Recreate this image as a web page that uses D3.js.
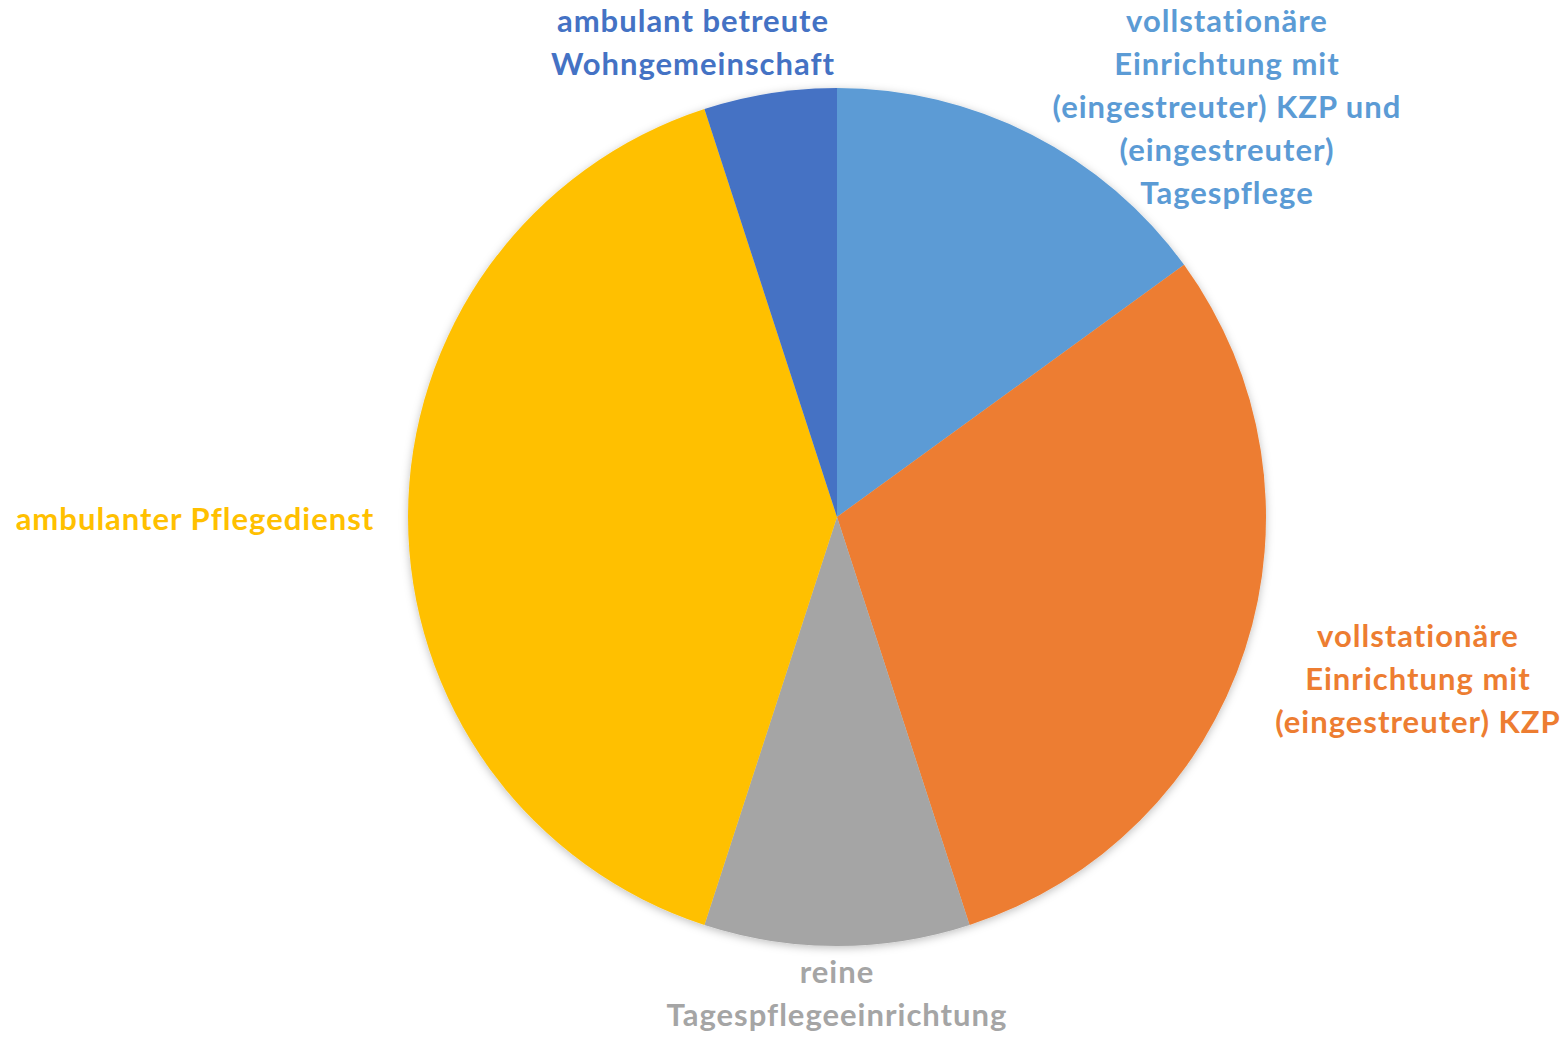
<!DOCTYPE html>
<html>
<head>
<meta charset="utf-8">
<script src="https://cdn.jsdelivr.net/npm/d3@7"></script>
<style>
  body { margin: 0; background: #fff; }
  #chart { width: 1565px; height: 1038px; }
  text { font-family: Lato, "Open Sans", sans-serif; font-weight: bold; }
</style>
</head>
<body>
<div id="chart"></div>
<script>
// data (clockwise from 12 o'clock)
const categories = [
    "vollstationäre Einrichtung mit (eingestreuter) KZP und (eingestreuter) Tagespflege",
    "vollstationäre Einrichtung mit (eingestreuter) KZP",
    "reine Tagespflegeeinrichtung",
    "ambulanter Pflegedienst",
    "ambulant betreute Wohngemeinschaft"
];
const values = [15, 30, 10, 40, 5];
const colors = ["#5B9BD5", "#ED7D31", "#A5A5A5", "#FFC000", "#4472C4"];

// how each label is broken into lines
const labelLines = [
    ["vollstationäre", "Einrichtung mit", "(eingestreuter) KZP und", "(eingestreuter)", "Tagespflege"],
    ["vollstationäre", "Einrichtung mit", "(eingestreuter) KZP"],
    ["reine", "Tagespflegeeinrichtung"],
    ["ambulanter Pflegedienst"],
    ["ambulant betreute", "Wohngemeinschaft"]
];
// label block centres, relative to the pie centre
const labelOffsets = [[390, -410], [581, 162], [0, 477], [-642, 2], [-144, -474]];

window.onload = function () {
    drawPie();
};

function drawPie() {
    let width = 1565,
        height = 1038,
        cx = 837,
        cy = 517,
        radius = 429,
        lineHeight = 43;

    let svg = d3.select("#chart")
        .append("svg")
        .attr("width", width)
        .attr("height", height);

    // soft shadow like the office chart
    let filter = svg.append("defs").append("filter")
        .attr("id", "shadow")
        .attr("x", "-10%").attr("y", "-10%")
        .attr("width", "120%").attr("height", "120%");
    filter.append("feDropShadow")
        .attr("dx", 0).attr("dy", 2)
        .attr("stdDeviation", 4)
        .attr("flood-color", "#000")
        .attr("flood-opacity", 0.25);

    let g = svg.append("g")
        .attr("transform", "translate(" + cx + "," + cy + ")");

    let pie = d3.pie()
        .sort(null)
        .value(function (d) { return d; });

    let arc = d3.arc()
        .innerRadius(0)
        .outerRadius(radius);

    let arcs = pie(values);

    g.append("g")
        .attr("filter", "url(#shadow)")
        .selectAll("path")
        .data(arcs)
        .enter()
        .append("path")
        .attr("d", arc)
        .attr("fill", function (d, i) { return colors[i]; });

    // labels
    let labels = g.selectAll("text.label")
        .data(arcs)
        .enter()
        .append("text")
        .attr("class", "label")
        .attr("text-anchor", "middle")
        .attr("font-size", 31)
        .attr("letter-spacing", 1)
        .attr("fill", function (d, i) { return colors[i]; });

    labels.each(function (d, i) {
        let lines = labelLines[i];
        let off = labelOffsets[i];
        let top = off[1] - (lines.length - 1) * lineHeight / 2;
        d3.select(this).selectAll("tspan")
            .data(lines)
            .enter()
            .append("tspan")
            .attr("x", off[0])
            .attr("y", function (l, j) { return top + j * lineHeight; })
            .attr("dy", "0.35em")
            .text(function (l) { return l; });
    });
}
</script>
</body>
</html>
